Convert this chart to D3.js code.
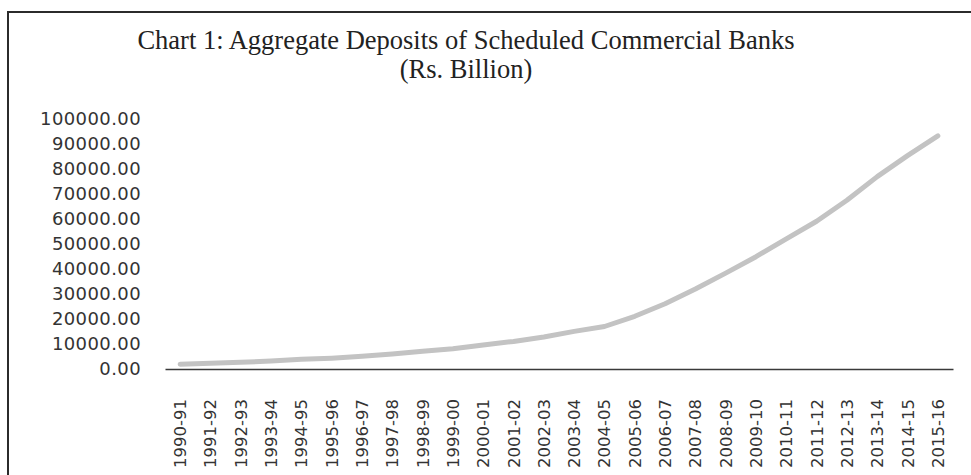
<!DOCTYPE html>
<html>
<head>
<meta charset="utf-8">
<script src="https://cdn.jsdelivr.net/npm/d3@7"></script>
<style>
  html, body { margin: 0; padding: 0; background: #fff; }
  svg { display: block; }
</style>
</head>
<body>
<svg id="chart" width="971" height="475"></svg>
<script>
// Financial years on the category axis
const years = [
  "1990-91", "1991-92", "1992-93", "1993-94", "1994-95", "1995-96", "1996-97",
  "1997-98", "1998-99", "1999-00", "2000-01", "2001-02", "2002-03", "2003-04",
  "2004-05", "2005-06", "2006-07", "2007-08", "2008-09", "2009-10", "2010-11",
  "2011-12", "2012-13", "2013-14", "2014-15", "2015-16"
];

// Aggregate deposits, Rs. billion
const deposits = [
  1925, 2308, 2687, 3152, 3868, 4338, 5056,
  5985, 7140, 8133, 9624, 11036, 12804, 15044,
  17002, 21094, 26119, 31969, 38341, 44928, 52078,
  59091, 67504, 76941, 85332, 93273
];

// Value axis ticks
const yTicks = [0, 10000, 20000, 30000, 40000, 50000, 60000, 70000, 80000, 90000, 100000];

const titleLines = ["Chart 1: Aggregate Deposits of Scheduled Commercial Banks", "(Rs. Billion)"];

const svg = d3.select("#chart");

// Frame around the chart area
svg.append("path")
  .attr("d", "M8,475 L8,12 L971,12")
  .attr("fill", "none")
  .attr("stroke", "#2b2b2b")
  .attr("stroke-width", 2);

// Title
const title = svg.append("text")
  .attr("text-anchor", "middle")
  .attr("font-family", "'Liberation Serif', 'Times New Roman', serif")
  .attr("font-size", 26.5)
  .attr("fill", "#222");
titleLines.forEach((t, i) => {
  title.append("tspan")
    .attr("x", 466)
    .attr("y", 49 + i * 29)
    .text(t);
});

const x = d3.scaleBand().domain(years).range([165, 953]);
const y = d3.scaleLinear().domain([0, 100000]).range([369, 119]);

const labelFont = "'DejaVu Sans', Verdana, sans-serif";

// Y axis: labels only
const yAxis = svg.append("g")
  .attr("transform", "translate(141,0)")
  .call(d3.axisLeft(y).tickValues(yTicks).tickFormat(d3.format(".2f")).tickSize(0).tickPadding(0));
yAxis.select(".domain").remove();
yAxis.selectAll("text")
  .attr("font-family", labelFont)
  .attr("font-size", 18)
  .attr("letter-spacing", 0.4)
  .attr("fill", "#333");

// X axis: baseline plus rotated year labels
const xAxis = svg.append("g")
  .attr("transform", "translate(0,369)")
  .call(d3.axisBottom(x).tickSize(0).tickSizeOuter(0));
xAxis.select(".domain")
  .attr("stroke", "#3a3a3a")
  .attr("stroke-width", 1.6);
xAxis.selectAll("text")
  .attr("font-family", labelFont)
  .attr("font-size", 16.5)
  .attr("fill", "#333")
  .attr("text-anchor", "start")
  .attr("dy", null)
  .attr("transform", "translate(6,99) rotate(-90)")
  .attr("x", 0)
  .attr("y", 0);

// Deposits line
const line = d3.line()
  .x((d, i) => x(years[i]) + x.bandwidth() / 2)
  .y(d => y(d));

svg.append("path")
  .datum(deposits)
  .attr("d", line)
  .attr("fill", "none")
  .attr("stroke", "#c3c3c3")
  .attr("stroke-width", 5)
  .attr("stroke-linecap", "round")
  .attr("stroke-linejoin", "round");
</script>
</body>
</html>
